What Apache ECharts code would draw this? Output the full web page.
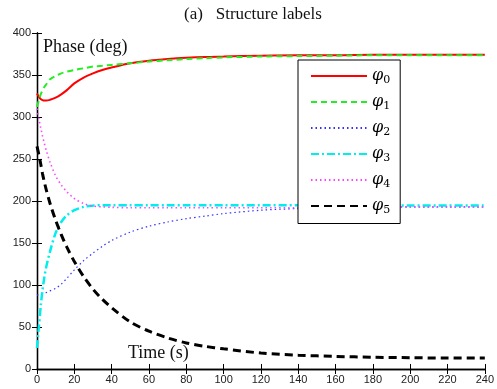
<!DOCTYPE html>
<html>
<head>
<meta charset="utf-8">
<script src="https://cdn.jsdelivr.net/npm/echarts@6/dist/echarts.min.js"></script>
<style>
  html, body { margin: 0; padding: 0; background: #fff; }
  #chart { width: 497px; height: 389px; }
</style>
</head>
<body>
<div id="chart"></div>
<script>
  // sample times (s)
  var time = [0, 1, 2, 3, 4, 5, 7, 10, 13, 16, 20, 25, 30, 35, 40, 50, 60, 70, 80, 90, 100, 120, 140, 160, 180, 200, 220, 240]
  // phases (deg)
  var phi0 = [328, 324, 321.5, 320, 319.5, 319.5, 320.5, 323, 327, 332, 340, 347, 352, 356, 359, 364, 367, 369, 370.5, 371.5, 372, 373, 373.5, 373.5, 374, 374, 374, 374]
  var phi1 = [312, 320, 327, 332, 336, 339, 345, 349, 352, 354, 356, 358, 360, 361, 362, 364, 366, 367.5, 369, 370, 371, 372, 372.5, 373, 373.5, 373.5, 373.5, 373.5]
  var phi2 = [88, 88.5, 89, 89.5, 90, 91, 93, 96, 101, 108, 118, 129, 138, 146, 153, 163, 170, 175, 179, 182, 185, 189, 191, 192, 192.5, 193, 193, 193]
  var phi3 = [25, 50, 75, 95, 110, 122, 140, 162, 175, 183, 189, 193, 194.5, 195, 195, 195, 195, 195, 195, 195, 195, 195, 195, 194.5, 194.5, 194.5, 194.5, 194.5]
  var phi4 = [310, 298, 287, 277, 268, 260, 246, 230, 219, 211, 203, 197, 194, 193, 192.5, 192, 192, 192, 192, 192, 192, 192, 192, 192, 192.5, 192.5, 192.5, 192.5]
  var phi5 = [265, 255, 244, 232, 222, 213, 197, 177, 160, 145, 128, 110, 95, 83, 73, 56, 45, 37, 31, 27, 24, 19, 16.5, 15, 14, 13.5, 13, 13]

  var names = ['φ0', 'φ1', 'φ2', 'φ3', 'φ4', 'φ5']

  function pairs (vals) {
    return time.map(function (t, i) { return [t, vals[i]] })
  }

  function mkSeries (name, vals, color, width, dash) {
    return {
      name: name,
      type: 'line',
      data: pairs(vals),
      smooth: 0.3,
      symbol: 'none',
      silent: true,
      lineStyle: { color: color, width: width, type: dash },
      itemStyle: { color: color }
    }
  }

  var labelFont = { color: '#222', fontSize: 11, fontFamily: 'Liberation Sans' }
  var axisLine = { show: true, lineStyle: { color: '#000', width: 1.3 } }
  var tick = { show: true, inside: true, length: 5, lineStyle: { color: '#000', width: 1 } }

  var chart = echarts.init(document.getElementById('chart'))
  var option = {
    animation: false,
    backgroundColor: '#fff',
    grid: { left: 37, right: 11, top: 33, bottom: 20 },
    legend: {
      orient: 'vertical',
      left: 298,
      top: 60,
      width: 115,
      padding: [8, 10, 8, 12],
      itemWidth: 56,
      itemHeight: 14,
      itemGap: 8.5,
      borderColor: '#000',
      borderWidth: 1,
      backgroundColor: '#fff',
      // hide the marker dot, keep only the line
      itemStyle: { opacity: 0 },
      data: names,
      formatter: function (name) {
        return '{p|φ}{s|' + name.slice(1) + '}'
      },
      textStyle: {
        rich: {
          p: { fontFamily: 'DejaVu Serif', fontStyle: 'italic', fontSize: 16, color: '#000' },
          s: { fontFamily: 'DejaVu Serif', fontSize: 11, color: '#000', padding: [8, 0, 0, 0] }
        }
      }
    },
    xAxis: [
      {
        type: 'value', min: 0, max: 240, interval: 20,
        axisLine: axisLine, axisTick: tick, splitLine: { show: false },
        axisLabel: Object.assign({ margin: 5 }, labelFont)
      },
      {
        type: 'value', position: 'top', min: 0, max: 240, interval: 20,
        axisLine: axisLine, axisTick: tick, splitLine: { show: false },
        axisLabel: { show: false }
      }
    ],
    yAxis: [
      {
        type: 'value', min: 0, max: 400, interval: 50,
        axisLine: axisLine, axisTick: tick, splitLine: { show: false },
        axisLabel: Object.assign({ margin: 6 }, labelFont)
      },
      {
        type: 'value', position: 'right', min: 0, max: 400, interval: 50,
        axisLine: axisLine, axisTick: tick, splitLine: { show: false },
        axisLabel: { show: false }
      }
    ],
    graphic: [
      {
        type: 'text', x: 253, y: 15,
        style: { text: '(a)   Structure labels', font: '17px "Liberation Serif"', fill: '#111', align: 'center', verticalAlign: 'middle' }
      },
      {
        type: 'text', left: 43, top: 38, z: 10,
        style: { text: 'Phase (deg)', font: '18px "Liberation Serif"', fill: '#111' }
      },
      {
        type: 'text', left: 128, top: 344, z: 10,
        style: { text: 'Time (s)', font: '18px "Liberation Serif"', fill: '#111' }
      }
    ],
    series: [
      mkSeries(names[0], phi0, '#ff0000', 2, 'solid'),
      mkSeries(names[1], phi1, '#22ee22', 2, [6, 4]),
      mkSeries(names[2], phi2, '#3333ff', 1.2, [1.5, 3]),
      mkSeries(names[3], phi3, '#00eeee', 2.5, [8, 3, 2, 3]),
      mkSeries(names[4], phi4, '#ff44ff', 1.6, [1.5, 3]),
      mkSeries(names[5], phi5, '#000000', 3, [8, 5])
    ]
  }
  chart.setOption(option)
</script>
</body>
</html>
